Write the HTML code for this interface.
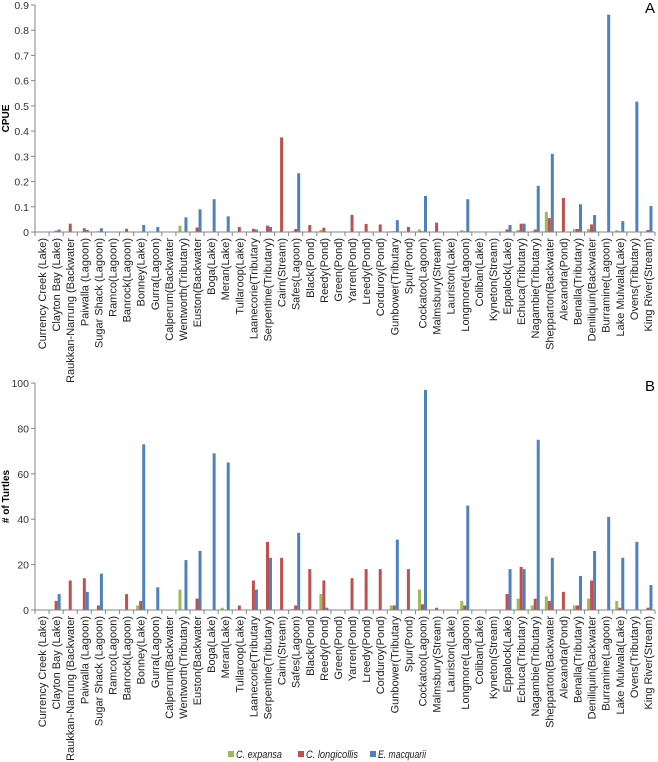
<!DOCTYPE html>
<html><head><meta charset="utf-8"><style>
body{margin:0;background:#fff;}
svg{display:block;font-family:"Liberation Sans",sans-serif;}
</style></head><body>
<svg id="c" width="658" height="762"></svg>
<script>
const categories=["Currency Creek (Lake)","Clayton Bay (Lake)","Raukkan-Narrung (Backwater","Paiwalla (Lagoon)","Sugar Shack (Lagoon)","Ramco(Lagoon)","Banrock(Lagoon)","Bonney(Lake)","Gurra(Lagoon)","Calperum(Backwater","Wentworth(Tributary)","Euston(Backwater","Boga(Lake)","Meran(Lake)","Tullaroop(Lake)","Laanecorie(Tributary","Serpentine(Tributary)","Cairn(Stream)","Safes(Lagoon)","Black(Pond)","Reedy(Pond)","Green(Pond)","Yarren(Pond)","Lreedy(Pond)","Corduroy(Pond)","Gunbower(Tributary","Spur(Pond)","Cockatoo(Lagoon)","Malmsbury(Stream)","Lauriston(Lake)","Longmore(Lagoon)","Coliban(Lake)","Kyneton(Stream)","Eppalock(Lake)","Echuca(Tributary)","Nagambie(Tributary)","Shepparton(Backwater","Alexandra(Pond)","Benalla(Tributary)","Deniliquin(Backwater","Burramine(Lagoon)","Lake Mulwala(Lake)","Ovens(Tributary)","King River(Stream)"];
const cpueExpansa=[0,0,0,0,0,0,0,0,0,0,0.025,0,0,0,0,0,0,0,0.003,0,0.008,0,0,0,0,0.003,0,0.01,0,0,0.007,0,0,0,0.008,0.003,0.08,0,0.012,0.012,0,0.007,0,0];
const cpueLongicollis=[0,0.005,0.033,0.015,0.003,0,0.013,0.002,0,0,0,0.018,0,0,0.02,0.013,0.025,0.375,0.012,0.028,0.017,0,0.068,0.032,0.03,0.003,0.02,0.003,0.037,0,0.003,0,0,0.01,0.033,0.01,0.055,0.135,0.012,0.03,0,0.003,0,0.008];
const cpueMacquarii=[0,0.01,0,0.008,0.015,0,0,0.028,0.02,0,0.058,0.09,0.13,0.062,0,0.01,0.02,0,0.233,0,0,0,0,0,0,0.047,0,0.143,0,0,0.13,0,0,0.028,0.033,0.183,0.31,0,0.11,0.067,0.862,0.043,0.517,0.103];
const numExpansa=[0,0,0,0,0,0,0,2,0,0,9,0,0,1,0,0,0,0,0.5,0,7,0,0,0,0,2,0,9,0,0,4,0,0,0,5,2,6,0,2,5,0,4,0,0];
const numLongicollis=[0,4,13,14,2,0,7,4,0,0,0,5,0,0,2,13,30,23,2,18,13,0,14,18,18,2,18,2.5,1,0,2,0,0,7,19,5,4,8,2,13,0,1,0,1];
const numMacquarii=[0,7,0,8,16,0,0,73,10,0,22,26,69,65,0,9,23,0,34,0,1,0,0,0,0,31,0,97,0,0,46,0,0,18,18,75,23,0,15,26,41,23,30,11];
const ticksA=["0","0.1","0.2","0.3","0.4","0.5","0.6","0.7","0.8","0.9"];
const ticksB=["0","20","40","60","80","100"];
const colors=["#9BBB59","#C0504D","#4F81BD"];
const svg=document.getElementById('c');
const NS="http://www.w3.org/2000/svg";
function mk(t,a,p){const e=document.createElementNS(NS,t);for(const k in a)e.setAttribute(k,a[k]);(p||svg).appendChild(e);return e;}
const X0=35,X1=655,step=(X1-X0)/categories.length;
function xc(i){return X0+step*(i+0.5);}
function chart(name,y0,y1,maxV,ticks,series,yTitle,letter){
  const g=mk('g',{});
  
  
  const ys=v=>y0-(v/maxV)*(y0-y1);
  ticks.forEach(t=>{const v=parseFloat(t);const y=ys(v);
    mk('line',{x1:X0-4,x2:X0,y1:y,y2:y,stroke:'#868686'},g);
    const tx=mk('text',{x:X0-6,y:y+4,'text-anchor':'end','font-size':'10.5',fill:'#333'},g);tx.textContent=t;
    
    
  });
  series.forEach((s,si)=>{s.forEach((v,i)=>{if(v<=0)return;
    const r=mk('rect',{x:xc(i)-4.5+si*3,y:ys(v),width:3,height:y0-ys(v),fill:colors[si]},g);
    
    
  });});
  mk('line',{x1:X0,x2:X0,y1:y1,y2:y0,stroke:'#868686'},g);
  mk('line',{x1:X0,x2:X1,y1:y0,y2:y0,stroke:'#868686'},g);
  for(let i=0;i<=categories.length;i++){const x=X0+step*i;mk('line',{x1:x,x2:x,y1:y0,y2:y0+4,stroke:'#868686'},g);}
  categories.forEach((c,i)=>{const x=xc(i)+4,y=y0+6;
    const t=mk('text',{x:x,y:y,'text-anchor':'end','font-size':'11',fill:'#222',transform:`rotate(-90 ${x} ${y})`},g);t.textContent=c;
    
    
  });
  const ty=(y0+y1)/2;
  const tt=mk('text',{x:9,y:ty,'text-anchor':'middle','font-size':'10','font-weight':'bold',fill:'#000',transform:`rotate(-90 9 ${ty})`},g);tt.textContent=yTitle;
  
  
  const lt=mk('text',{x:650,y:y1+8,'text-anchor':'middle','font-size':'15',fill:'#000'},g);lt.textContent=letter;
  
  
}
chart('chart-a-cpue',232,5,0.9,ticksA,[cpueExpansa,cpueLongicollis,cpueMacquarii],'CPUE','A');
chart('chart-b-turtles',610,383,100,ticksB,[numExpansa,numLongicollis,numMacquarii],'# of Turtles','B');
const leg=[["C. expansa",228,46],["C. longicollis",298,52],["E. macquarii",370,48]];
leg.forEach((l,i)=>{
  const r=mk('rect',{x:l[1],y:751,width:6,height:6,fill:colors[i]});
  
  
  const t=mk('text',{x:l[1]+8,y:758,'font-size':'11','font-style':'italic',fill:'#222',textLength:l[2],lengthAdjust:'spacingAndGlyphs'});t.textContent=l[0];
  
  
});
</script>
</body></html>
